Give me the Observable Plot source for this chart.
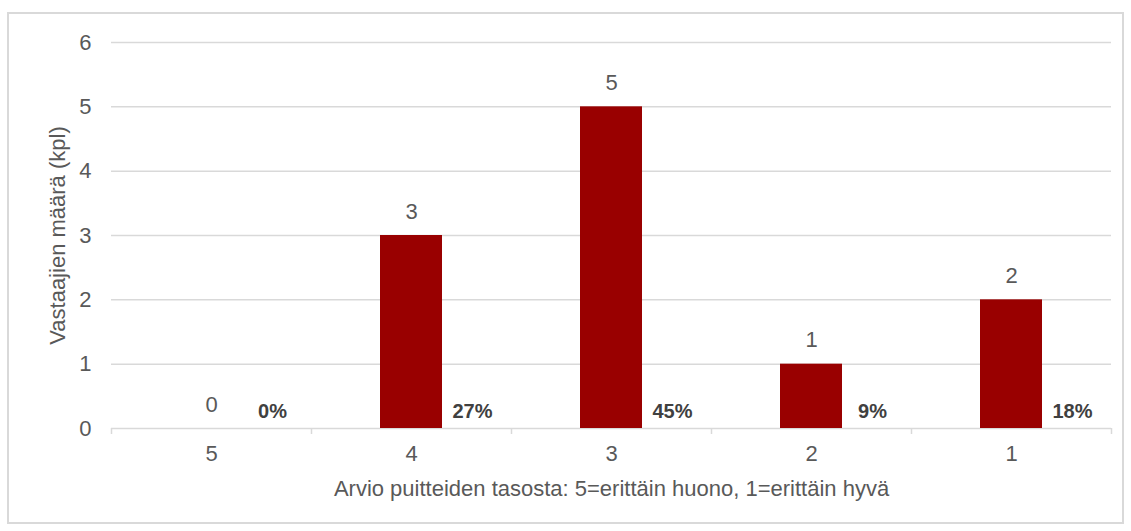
<!DOCTYPE html>
<html>
<head>
<meta charset="utf-8">
<script src="https://cdn.jsdelivr.net/npm/d3@7"></script>
<script src="https://cdn.jsdelivr.net/npm/@observablehq/plot@0.6"></script>
<style>
  html, body { margin: 0; padding: 0; background: #fff; }
  #wrap { position: relative; width: 1131px; height: 531px; overflow: hidden; }
  #frame { position: absolute; left: 7px; top: 12px; width: 1113px; height: 508px; border: 2px solid #d9d9d9; pointer-events: none; }
</style>
</head>
<body>
<div id="wrap"><div id="frame"></div></div>
<script>
const categories = ["5", "4", "3", "2", "1"];
const counts = [0, 3, 5, 1, 2];
const percentLabels = ["0%", "27%", "45%", "9%", "18%"];
const yTicks = [0, 1, 2, 3, 4, 5, 6];
const xTitle = "Arvio puitteiden tasosta: 5=erittäin huono, 1=erittäin hyvä";
const yTitle = "Vastaajien määrä (kpl)";

const rows = categories.map((c, i) => ({cat: c, count: counts[i], pct: percentLabels[i]}));
const font = "'Liberation Sans', Arial, sans-serif";
const grey = "#595959";
const grid = "#d9d9d9";

const chart = Plot.plot({
  width: 1131,
  height: 531,
  marginLeft: 111,
  marginRight: 20,
  marginTop: 42,
  marginBottom: 103,
  style: {fontFamily: font, background: "transparent", overflow: "visible"},
  x: {domain: categories, paddingInner: 0.69, paddingOuter: 0.345, label: null},
  y: {domain: [0, 6], label: null},
  marks: [
    Plot.ruleY(yTicks.filter(d => d > 0), {stroke: grid, strokeWidth: 1.5}),
    Plot.ruleY([0], {stroke: grid, strokeWidth: 1.5}),
    Plot.ruleX(categories, {x: d => d, y1: 0, y2: 0, dx: -100, insetBottom: -6, stroke: grid, strokeWidth: 1.5}),
    Plot.ruleX([categories[categories.length - 1]], {x: d => d, y1: 0, y2: 0, dx: 100, insetBottom: -6, stroke: grid, strokeWidth: 1.5}),
    Plot.barY(rows, {x: "cat", y: "count", fill: "#990000"}),
    Plot.text(rows, {x: "cat", y: "count", text: d => String(d.count), dy: -24, fill: grey, fontSize: 22}),
    Plot.text(rows, {x: "cat", y: 0, text: "pct", dx: 61, dy: -17, fill: "#404040", fontSize: 20, fontWeight: "bold"}),
    Plot.axisY({ticks: yTicks, tickFormat: d3.format("d"), tickSize: 0, tickPadding: 20, fontSize: 22, color: grey, label: null}),
    Plot.axisX({tickSize: 0, tickPadding: 17, fontSize: 22, color: grey, label: null}),
    Plot.text([xTitle], {frameAnchor: "bottom", textAnchor: "middle", dy: 67, fill: grey, fontSize: 22}),
    Plot.text([yTitle], {frameAnchor: "left", textAnchor: "middle", dx: -54, rotate: -90, fill: grey, fontSize: 22})
  ]
});
document.getElementById("wrap").insertBefore(chart, document.getElementById("frame"));
</script>
</body>
</html>
